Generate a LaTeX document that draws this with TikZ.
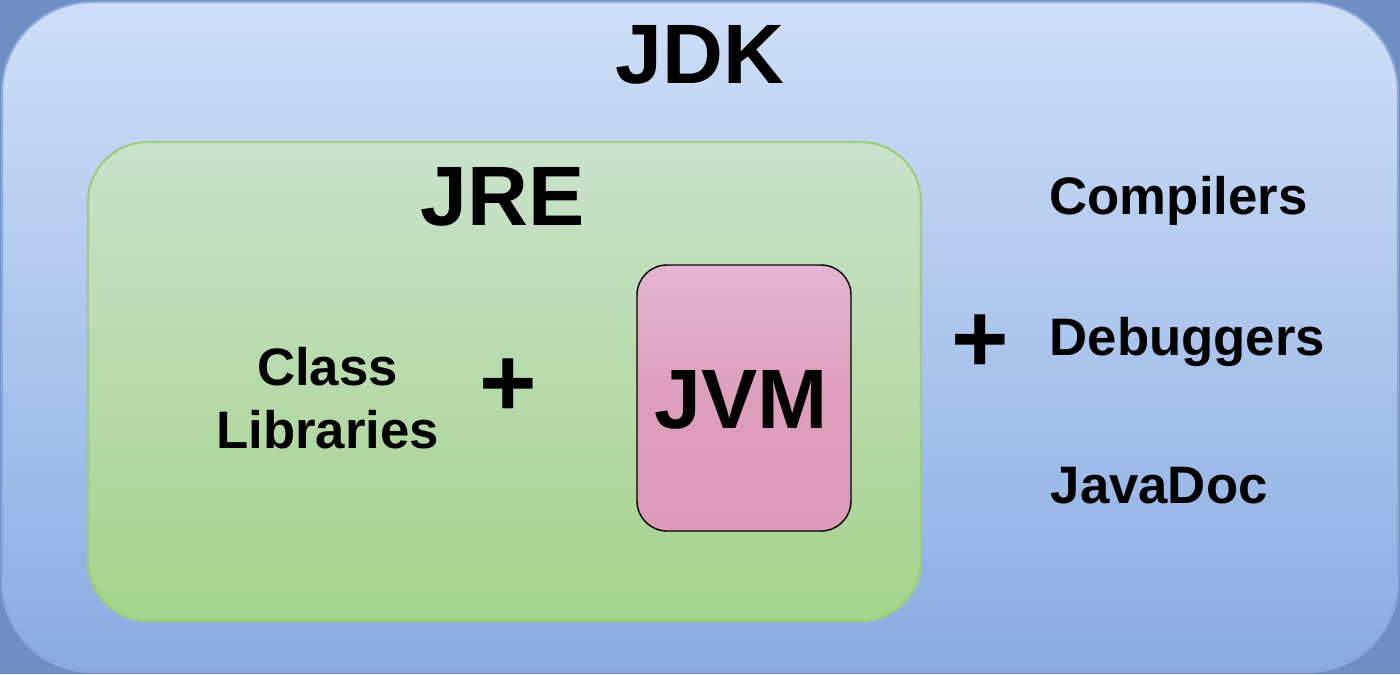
\documentclass[tikz,border=0pt]{standalone}
\usepackage{fontspec}
\setmainfont{Liberation Sans}
\definecolor{jdkcorner}{HTML}{6F8FC4}
\definecolor{jdktop}{HTML}{CFDFF7}
\definecolor{jdkbot}{HTML}{8AACE2}
\definecolor{jdkline}{HTML}{89A9DF}
\definecolor{jretop}{HTML}{CAE2CC}
\definecolor{jrebot}{HTML}{A5D38A}
\definecolor{jreline}{HTML}{9CCC7C}
\definecolor{jvmtop}{HTML}{E4B6D2}
\definecolor{jvmbot}{HTML}{DC9AB8}

\begin{document}
\begin{tikzpicture}[
    jdkbox/.style={draw=jdkline, line width=0.6pt, rounded corners=0.9cm,
        top color=jdktop, bottom color=jdkbot, inner sep=0pt, outer sep=0pt},
    jrebox/.style={draw=jreline, line width=0.6pt, rounded corners=0.6cm,
        top color=jretop, bottom color=jrebot, inner sep=0pt, outer sep=0pt},
    jvmbox/.style={draw=black, line width=0.4pt, rounded corners=0.3cm,
        top color=jvmtop, bottom color=jvmbot, middle color=jvmbot!85!jvmtop,
        inner sep=0pt, outer sep=0pt},
    big/.style={font=\fontsize{24}{29}\selectfont\bfseries, inner sep=0pt, anchor=base},
    item/.style={font=\fontsize{15}{18}\selectfont\bfseries, inner sep=0pt, anchor=base west},
    plus/.style={font=\fontsize{28}{30}\selectfont\bfseries, inner sep=0pt}
]
    \fill[jdkcorner] (0,0) rectangle (14,6.74);

    \node[jdkbox, minimum width=13.96cm, minimum height=6.70cm] (jdkbg) at (7,3.37) {};
    \node[jrebox, minimum width=8.33cm, minimum height=4.79cm] (jrebg) at (5.045,2.925) {};
    \node[jvmbox, minimum width=2.14cm, minimum height=2.66cm] (jvmbg) at (7.44,2.76) {};

    \node[big] (jdk) at (7.00,5.91) {JDK};
    \node[big] (jre) at (5.03,4.49) {JRE};
    \node[big] (jvm) at (7.415,2.46) {JVM};

    \node[font=\fontsize{15}{17.9}\selectfont\bfseries, align=center, inner sep=0pt,
        anchor=base] (classlib) at (3.275,2.26) {Class\\Libraries};
    \node[plus] (plusa) at (5.08,2.86) {+};

    \node[plus] (plusb) at (9.80,3.30) {+};
    \node[item] (comp) at (10.49,4.60) {Compilers};
    \node[item] (debug) at (10.49,3.19) {Debuggers};
    \node[item] (doc) at (10.50,1.71) {JavaDoc};
\end{tikzpicture}
\end{document}
